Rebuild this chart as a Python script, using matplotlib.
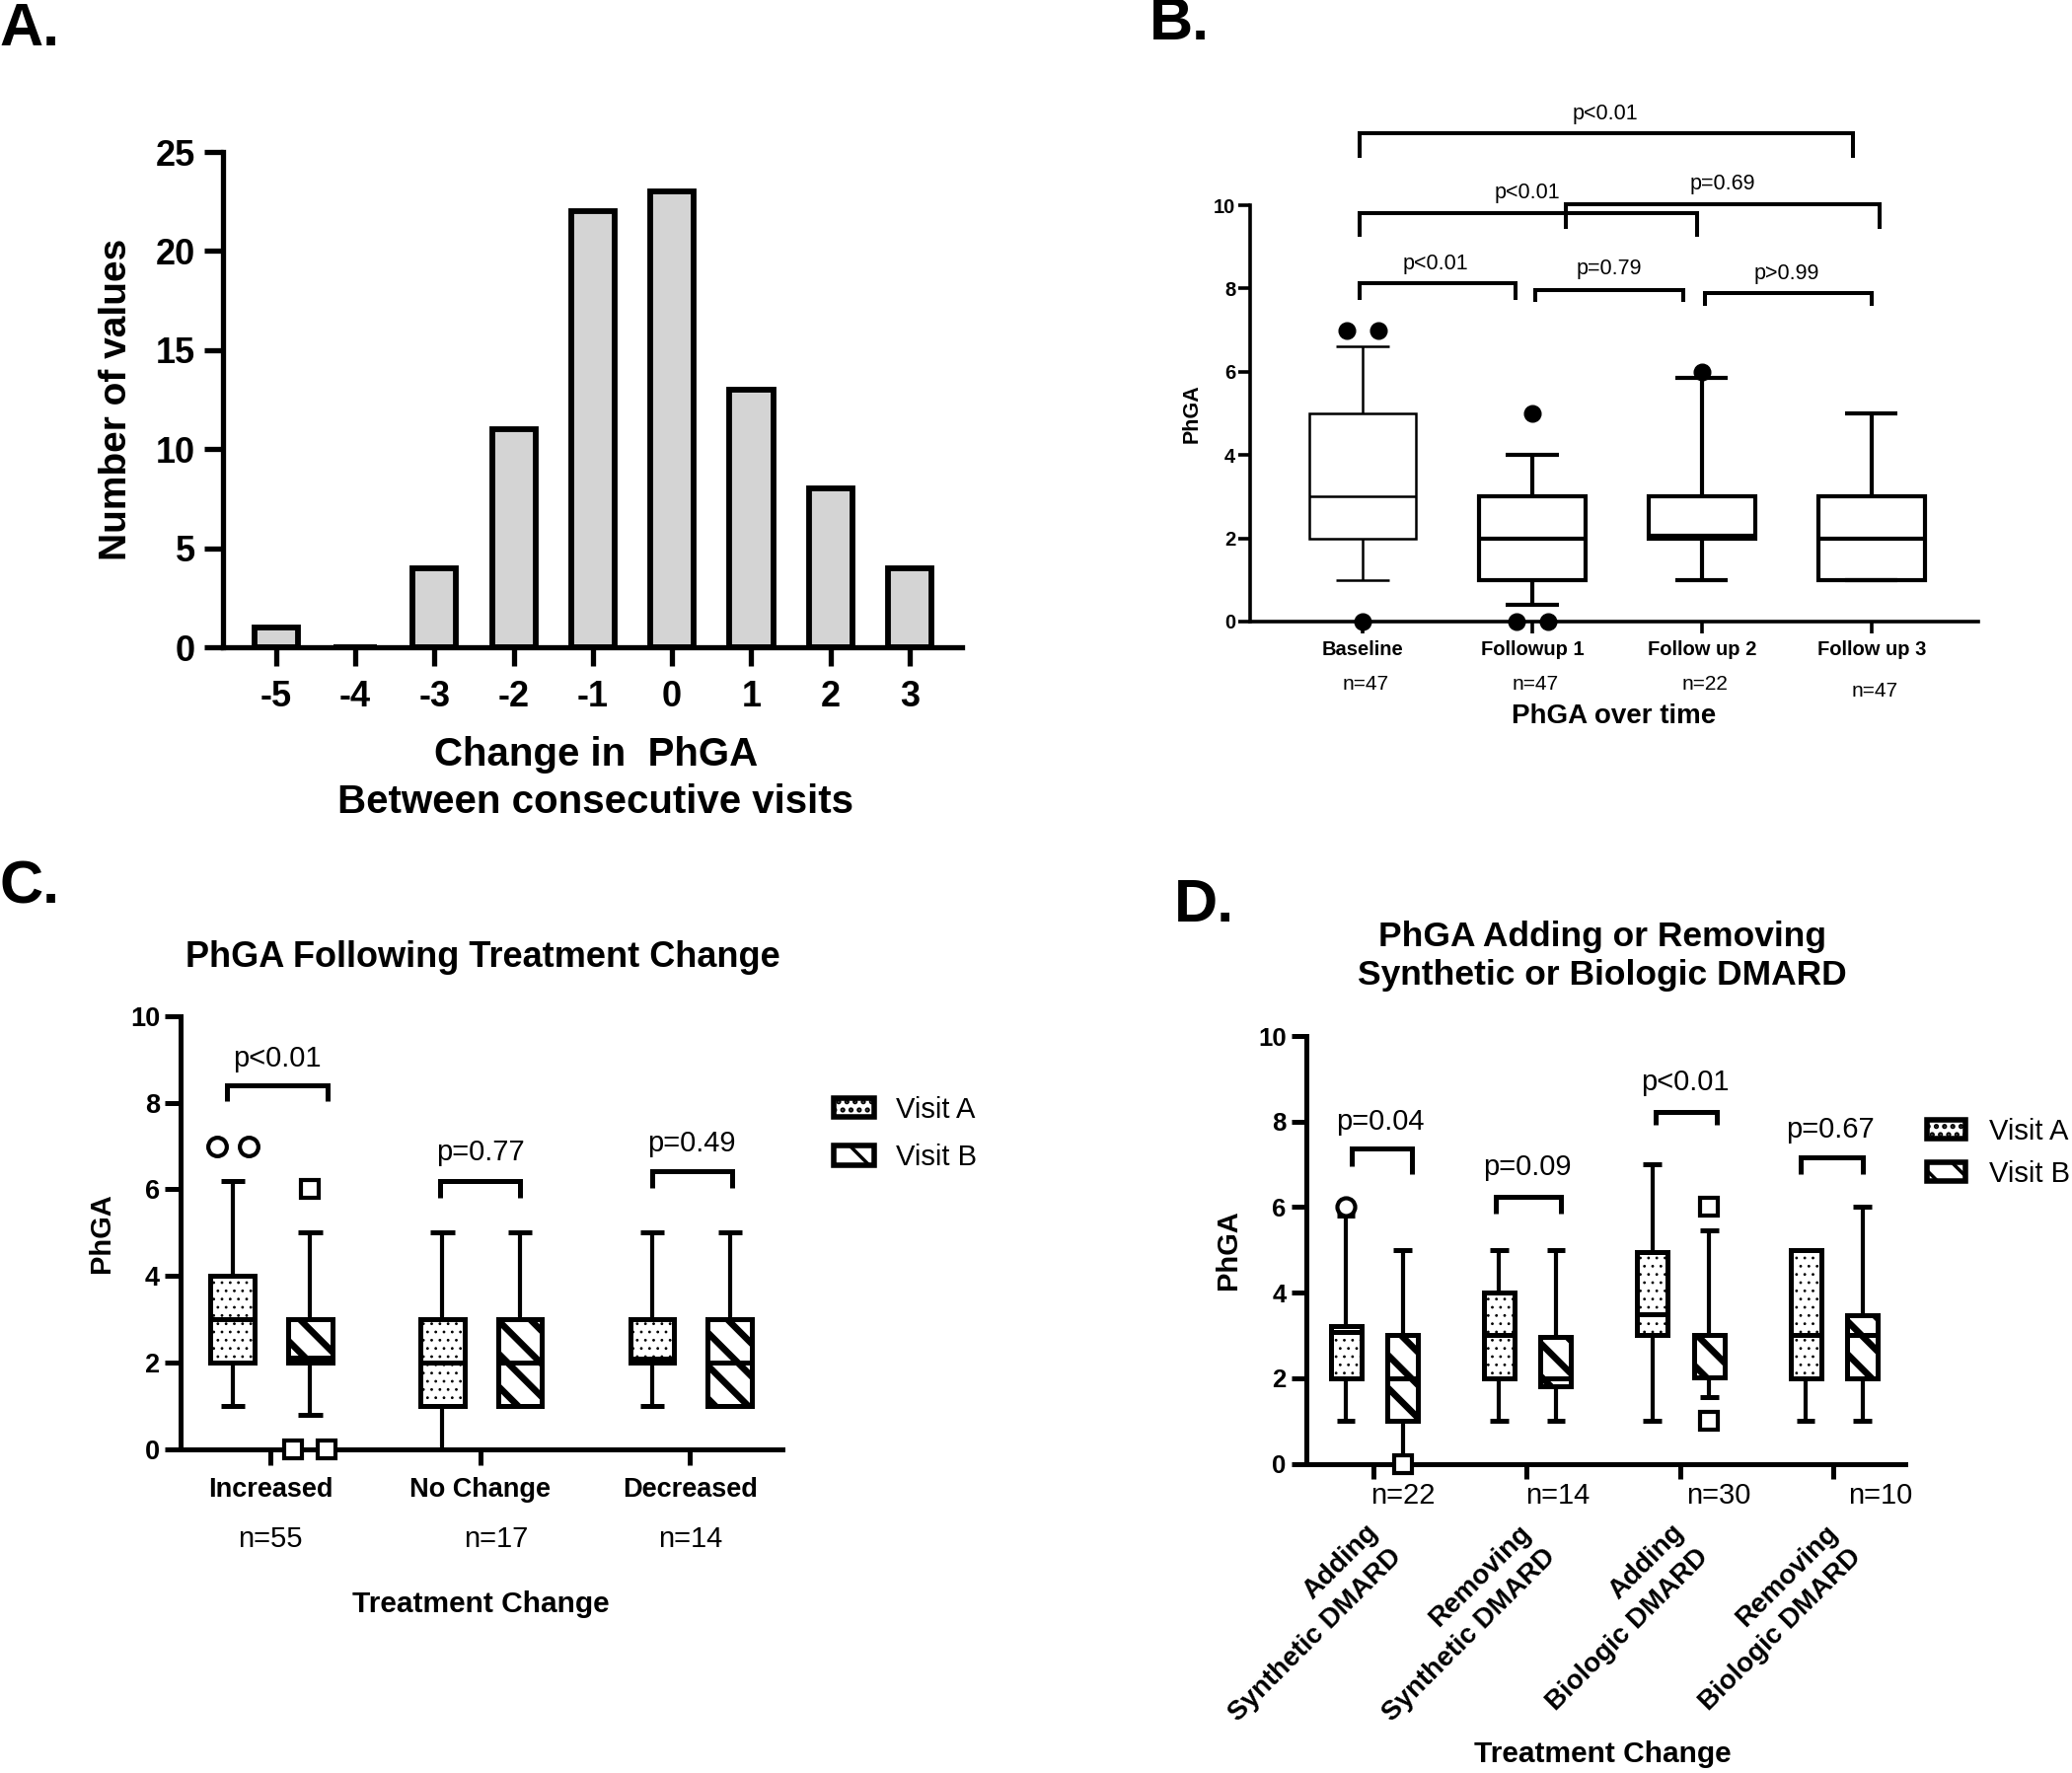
import matplotlib
matplotlib.use("Agg")
import matplotlib.pyplot as plt
from matplotlib.patches import Patch
from matplotlib.transforms import ScaledTranslation
import numpy as np

plt.rcParams['font.family'] = ['Liberation Sans', 'DejaVu Sans']
plt.rcParams['hatch.linewidth'] = 2.5

# ---- data ----
# A: histogram of change in PhGA
a_change = [-5, -4, -3, -2, -1, 0, 1, 2, 3]
a_count = [1, 0, 4, 11, 22, 23, 13, 8, 4]

# B: PhGA over time
b_labels = ['Baseline', 'Followup 1', 'Follow up 2', 'Follow up 3']
b_n = ['n=47', 'n=47', 'n=22', 'n=47']
b_q1 = [2, 1, 2, 1]
b_med = [3, 2, 2.05, 2]
b_q3 = [5, 3, 3, 3]
b_lo = [1, 0.4, 1, 1]
b_hi = [6.6, 4, 5.85, 5]
b_fliers = [[7, 7, 0], [5, 0, 0], [6], []]
b_pairs = [(0, 1, 'p<0.01'), (1, 2, 'p=0.79'), (2, 3, 'p>0.99'),
           (0, 2, 'p<0.01'), (1, 3, 'p=0.69'), (0, 3, 'p<0.01')]

# C: treatment change
c_groups = ['Increased', 'No Change', 'Decreased']
c_n = ['n=55', 'n=17', 'n=14']
ca_q1 = [2, 1, 2]
ca_med = [3, 2, 2.08]
ca_q3 = [4, 3, 3]
ca_lo = [1, 0, 1]
ca_hi = [6.2, 5, 5]
ca_fliers = [[7, 7], [], []]
cb_q1 = [2, 1, 1]
cb_med = [2.1, 2, 2]
cb_q3 = [3, 3, 3]
cb_lo = [0.8, 1, 1]
cb_hi = [5, 5, 5]
cb_fliers = [[6, 0, 0], [], []]
c_p = ['p<0.01', 'p=0.77', 'p=0.49']

# D: adding / removing DMARD
d_groups = ['Adding\nSynthetic DMARD', 'Removing\nSynthetic DMARD',
            'Adding\nBiologic DMARD', 'Removing\nBiologic DMARD']
d_n = ['n=22', 'n=14', 'n=30', 'n=10']
da_q1 = [2, 2, 3, 2]
da_med = [3.08, 3, 3.5, 3]
da_q3 = [3.22, 4, 4.95, 5]
da_lo = [1, 1, 1, 1]
da_hi = [5.8, 5, 7, 5]
da_fliers = [[6], [], [], []]
db_q1 = [1, 1.82, 2.02, 2]
db_med = [2, 2, 3, 3]
db_q3 = [3, 2.97, 3.02, 3.48]
db_lo = [0.15, 1, 1.55, 1]
db_hi = [5, 5, 5.45, 6]
db_fliers = [[0], [], [6, 1], []]
d_p = ['p=0.04', 'p=0.09', 'p<0.01', 'p=0.67']

W, H = 2100, 1797
fig = plt.figure(figsize=(W / 100, H / 100), dpi=100)


def px_ax(l, t, r, b):
    return fig.add_axes([l / W, 1 - b / H, (r - l) / W, (b - t) / H])


def ftext(x, y, s, **kw):
    kw.setdefault('ha', 'center')
    kw.setdefault('va', 'center')
    return fig.text(x / W, 1 - y / H, s, **kw)


def style(ax, lw, tl, fs, xpad, ypad):
    for s in ['top', 'right']:
        ax.spines[s].set_visible(False)
    for s in ['left', 'bottom']:
        ax.spines[s].set_linewidth(lw)
    ax.tick_params(width=lw, length=tl, labelsize=fs, color='black')
    ax.tick_params(axis='x', pad=xpad)
    ax.tick_params(axis='y', pad=ypad)


def draw_box(ax, pos, q1, med, q3, lo, hi, width, capw, lw, hatch=None, hlw=2.5, wlw=None):
    wlw = lw if wlw is None else wlw
    st = [dict(med=med, q1=q1, q3=q3, whislo=lo, whishi=hi, fliers=[])]
    art = ax.bxp(st, positions=[pos], widths=width, capwidths=capw,
                 patch_artist=True, showfliers=False, manage_ticks=False,
                 boxprops=dict(facecolor='white', edgecolor='black', linewidth=lw, hatch=hatch),
                 medianprops=dict(color='black', linewidth=lw, solid_capstyle='butt'),
                 whiskerprops=dict(color='black', linewidth=wlw, solid_capstyle='butt'),
                 capprops=dict(color='black', linewidth=lw, solid_capstyle='butt'))
    for b in art['boxes']:
        b.set_joinstyle('miter')
        if hasattr(b, 'set_hatch_linewidth'):
            b.set_hatch_linewidth(hlw)
    return art


def flier_x(pos, vals, step):
    xs = []
    for i, v in enumerate(vals):
        k = vals.count(v)
        j = vals[:i].count(v)
        xs.append(pos + (j - (k - 1) / 2) * step)
    return xs


def bracket(ax, x1, x2, top, l1, l2, lw):
    ax.plot([x1, x1, x2, x2], [l1, top, top, l2], color='black', lw=lw,
            clip_on=False, solid_joinstyle='miter', solid_capstyle='butt')


# ---------------- Panel A ----------------
axA = px_ax(226, 154, 975, 656)
axA.bar(a_change, a_count, width=0.55, color='#d4d4d4', edgecolor='black',
        linewidth=4.2, zorder=2, clip_on=False)
axA.set_xlim(-5.67, 3.66)
axA.set_ylim(0, 25)
axA.set_xticks(a_change, [str(v) for v in a_change], fontweight='bold')
axA.set_yticks(range(0, 26, 5), [str(v) for v in range(0, 26, 5)], fontweight='bold')
style(axA, 3.8, 14, 26, 10, 6.5)
ftext(118, 405, 'Number of values', rotation=90, fontsize=28, fontweight='bold')
ftext(604, 789, 'Change in  PhGA\nBetween consecutive visits', fontsize=29,
      fontweight='bold', linespacing=1.3)
ftext(30, 30, 'A.', fontsize=44, fontweight='bold')

# ---------------- Panel B ----------------
axB = px_ax(1267, 208, 2005, 630)
for i in range(4):
    lw = 1.8 if i == 0 else 3.0
    draw_box(axB, i, b_q1[i], b_med[i], b_q3[i], b_lo[i], b_hi[i], 0.63, 0.31, lw)
    fl = b_fliers[i]
    if fl:
        axB.plot(flier_x(i, fl, 0.185), fl, 'o', color='black', markersize=12,
                 clip_on=False, zorder=5)
axB.set_xlim(-0.663, 3.63)
axB.set_ylim(0, 10)
axB.set_xticks(range(4), b_labels, fontweight='bold')
axB.set_yticks(range(0, 11, 2), [str(v) for v in range(0, 11, 2)], fontweight='bold')
style(axB, 2.6, 8.6, 14.5, 5, 2)

# bracket layout: x1, x2, top, left leg, right leg, text x, text y
b_br = [(-0.02, 0.9, 8.13, 7.72, 7.72, 0.43, 8.6),
        (1.02, 1.89, 7.97, 7.67, 7.67, 1.455, 8.46),
        (2.02, 3.0, 7.89, 7.58, 7.58, 2.5, 8.36),
        (-0.02, 1.97, 9.81, 9.23, 9.23, 0.97, 10.3),
        (1.2, 3.05, 10.02, 9.43, 9.43, 2.12, 10.5),
        (-0.02, 2.89, 11.72, 11.13, 11.13, 1.43, 12.2)]
for (i, j, lab), (x1, x2, top, l1, l2, tx, ty) in zip(b_pairs, b_br):
    bracket(axB, x1, x2, top, l1, l2, 2.9)
    axB.text(tx, ty, lab, ha='center', va='center', fontsize=15.5, clip_on=False)
b_ny = [64, 64, 64, 71]
for i, s in enumerate(b_n):
    axB.annotate(s, xy=(i + 0.02, 0), xycoords=('data', 'axes fraction'),
                 xytext=(0, -b_ny[i] * 0.72), textcoords='offset points',
                 ha='center', va='center', fontsize=15)
ftext(1208, 419, 'PhGA', rotation=90, fontsize=15.5, fontweight='bold')
ftext(1636, 726, 'PhGA over time', fontsize=20, fontweight='bold')
ftext(1195, 25, 'B.', fontsize=44, fontweight='bold')

# ---------------- Panel C ----------------
axC = px_ax(183, 1030, 793, 1468.6)
offA, offB = -0.18, 0.19
for i in range(3):
    draw_box(axC, i + offA, ca_q1[i], ca_med[i], ca_q3[i], ca_lo[i], ca_hi[i],
             0.21, 0.115, 3.6, hatch='..', hlw=0.8, wlw=3.0)
    draw_box(axC, i + offB, cb_q1[i], cb_med[i], cb_q3[i], cb_lo[i], cb_hi[i],
             0.21, 0.115, 3.6, hatch='\\', hlw=4.8, wlw=3.0)
    if ca_fliers[i]:
        axC.plot(flier_x(i + offA, ca_fliers[i], 0.15), ca_fliers[i], 'o', mfc='white',
                 mec='black', mew=3, markersize=13.5, clip_on=False, zorder=5)
    if cb_fliers[i]:
        axC.plot(flier_x(i + offB, cb_fliers[i], 0.16), cb_fliers[i], 's', mfc='white',
                 mec='black', mew=3, markersize=13, clip_on=False, zorder=5)
axC.set_xlim(-0.428, 2.44)
axC.set_ylim(0, 10)
axC.set_xticks(range(3), c_groups, fontweight='bold')
axC.set_yticks(range(0, 11, 2), [str(v) for v in range(0, 11, 2)], fontweight='bold')
style(axC, 3.6, 11.5, 19.5, 9, 3.6)

c_br = [(-0.207, 0.273, 8.4, 8.05, 8.05, 0.03, 9.03),
        (-0.19, 0.19, 6.19, 5.8, 5.8, 0.0, 6.85),
        (-0.18, 0.2, 6.43, 6.04, 6.04, 0.005, 7.07)]
for i, (x1, x2, top, l1, l2, tx, ty) in enumerate(c_br):
    bracket(axC, i + x1, i + x2, top, l1, l2, 3.6)
    axC.text(i + tx, ty, c_p[i], ha='center', va='center', fontsize=21)
c_nx = [0.0, 0.075, 0.0]
for i, s in enumerate(c_n):
    axC.annotate(s, xy=(i + c_nx[i], 0), xycoords=('data', 'axes fraction'),
                 xytext=(0, -66), textcoords='offset points',
                 ha='center', va='center', fontsize=21)
hA = Patch(facecolor='white', edgecolor='black', linewidth=4.0, hatch='..')
hB = Patch(facecolor='white', edgecolor='black', linewidth=4.0, hatch='\\')
for h, w in ((hA, 0.8), (hB, 4.8)):
    if hasattr(h, 'set_hatch_linewidth'):
        h.set_hatch_linewidth(w)
axC.legend([hA, hB], ['Visit A', 'Visit B'], loc='upper left',
           bbox_to_anchor=(845 / W, 1 - (1128 - 17) / H), bbox_transform=fig.transFigure,
           frameon=False, fontsize=21, handlelength=1.4, handleheight=0.65,
           handletextpad=0.75, labelspacing=0.7, borderpad=0, borderaxespad=0)
ftext(489, 971, 'PhGA Following Treatment Change', fontsize=26, fontweight='bold')
ftext(103, 1250, 'PhGA', rotation=90, fontsize=21, fontweight='bold')
ftext(487, 1626, 'Treatment Change', fontsize=21.5, fontweight='bold')
ftext(30, 900, 'C.', fontsize=44, fontweight='bold')

# ---------------- Panel D ----------------
axD = px_ax(1324, 1050, 1931, 1483.5)
for i in range(4):
    draw_box(axD, i + offA, da_q1[i], da_med[i], da_q3[i], da_lo[i], da_hi[i],
             0.2, 0.12, 3.6, hatch='..', hlw=0.8, wlw=3.0)
    draw_box(axD, i + offB, db_q1[i], db_med[i], db_q3[i], db_lo[i], db_hi[i],
             0.2, 0.12, 3.6, hatch='\\', hlw=4.8, wlw=3.0)
    if da_fliers[i]:
        axD.plot(flier_x(i + offA, da_fliers[i], 0.15), da_fliers[i], 'o', mfc='white',
                 mec='black', mew=3, markersize=13, clip_on=False, zorder=5)
    if db_fliers[i]:
        axD.plot(flier_x(i + offB, db_fliers[i], 0.15), db_fliers[i], 's', mfc='white',
                 mec='black', mew=3, markersize=13, clip_on=False, zorder=5)
axD.set_xlim(-0.438, 3.47)
axD.set_ylim(0, 10)
axD.set_xticks(range(4), d_groups, fontweight='bold', fontsize=20, rotation=45,
               ha='right', rotation_mode='anchor', multialignment='right',
               linespacing=1.45)
axD.set_yticks(range(0, 11, 2), [str(v) for v in range(0, 11, 2)], fontweight='bold')
style(axD, 3.6, 11, 18.5, 30, 3.6)
axD.tick_params(axis='x', labelsize=20)
shift = ScaledTranslation(-9 / 100, 0, fig.dpi_scale_trans)
for lab in axD.get_xticklabels():
    lab.set_transform(lab.get_transform() + shift)

d_br = [(-0.144, 0.252, 7.37, 6.96, 6.78, 0.045, 8.0),
        (-0.2, 0.22, 6.24, 5.85, 5.85, 0.0, 6.94),
        (-0.16, 0.24, 8.22, 7.92, 7.92, 0.03, 8.91),
        (-0.21, 0.19, 7.17, 6.77, 6.77, -0.02, 7.82)]
for i, (x1, x2, top, l1, l2, tx, ty) in enumerate(d_br):
    bracket(axD, i + x1, i + x2, top, l1, l2, 3.6)
    axD.text(i + tx, ty, d_p[i], ha='center', va='center', fontsize=21)
d_nx = [0.19, 0.2, 0.25, 0.31]
for i, s in enumerate(d_n):
    axD.annotate(s, xy=(i + d_nx[i], 0), xycoords=('data', 'axes fraction'),
                 xytext=(0, -23.5), textcoords='offset points',
                 ha='center', va='center', fontsize=21)
axD.legend([hA, hB], ['Visit A', 'Visit B'], loc='upper left',
           bbox_to_anchor=(1953 / W, 1 - (1150 - 17) / H), bbox_transform=fig.transFigure,
           frameon=False, fontsize=21, handlelength=1.35, handleheight=0.65,
           handletextpad=0.8, labelspacing=0.5, borderpad=0, borderaxespad=0)
ftext(1624, 969, 'PhGA Adding or Removing\nSynthetic or Biologic DMARD',
      fontsize=25.5, fontweight='bold')
ftext(1245, 1267, 'PhGA', rotation=90, fontsize=21, fontweight='bold')
ftext(1624, 1778, 'Treatment Change', fontsize=21.5, fontweight='bold')
ftext(1220, 919, 'D.', fontsize=44, fontweight='bold')

fig.savefig('out.png', dpi=100, facecolor='white')
